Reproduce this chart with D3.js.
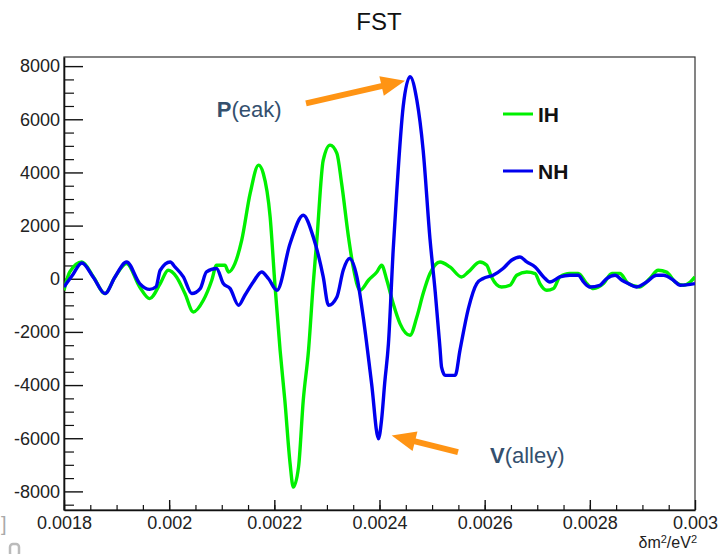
<!DOCTYPE html>
<html>
<head>
<meta charset="utf-8">
<script src="https://cdn.jsdelivr.net/npm/d3@7/dist/d3.min.js"></script>
<style>
  html, body { margin: 0; padding: 0; background: #fff; }
  svg { display: block; font-family: "Liberation Sans", Arial, Helvetica, sans-serif; }
</style>
</head>
<body>
<svg id="chart" width="722" height="554"></svg>
<script>
// δm² values (eV²) and FST amplitude for the inverted hierarchy (IH)
const ihX = [0.0018, 0.001811, 0.001834, 0.001856, 0.001878, 0.001897, 0.001919, 0.001944, 0.001963, 0.001983,
  0.001998, 0.002014, 0.00203, 0.002046, 0.002065, 0.002081, 0.00209, 0.002106, 0.002113, 0.002125,
  0.002138, 0.002154, 0.00217, 0.002179, 0.002192, 0.002201, 0.002211, 0.00222, 0.00223, 0.002236,
  0.002246, 0.002255, 0.002265, 0.002274, 0.002281, 0.002293, 0.002306, 0.002319, 0.002328, 0.002341,
  0.00235, 0.002363, 0.002379, 0.002395, 0.002404, 0.002414, 0.002426, 0.002439, 0.002458, 0.002471,
  0.002483, 0.002496, 0.002515, 0.002534, 0.002556, 0.002569, 0.002591, 0.002604, 0.002613, 0.002632,
  0.002648, 0.002661, 0.00268, 0.002696, 0.002705, 0.002718, 0.002731, 0.002743, 0.002762, 0.002778,
  0.002794, 0.002807, 0.002826, 0.002842, 0.002857, 0.002873, 0.002895, 0.002914, 0.00293, 0.002946,
  0.002962, 0.002978, 0.002991, 0.003];
const ihY = [-433, 256, 633, 68, -557, 68, 572, -309, -746, -181,
  320, 68, -557, -1250, -810, -56, 508, 508, 256, 572,
  1450, 3209, 4275, 3962, 2328, -181, -2693, -4576, -6960, -7841,
  -7088, -4576, -2693, -181, 1500, 4463, 5028, 4715, 3585, 1575,
  444, -433, -56, 256, 508, -56, -934, -1687, -2128, -1439,
  -557, 196, 633, 444, 68, 256, 633, 508, 68, -309,
  -245, 132, 256, 196, -181, -433, -370, 68, 196, 196,
  -181, -370, -181, 196, 196, -181, -309, 8, 320, 250,
  -120, -245, -120, 68];

// δm² values (eV²) and FST amplitude for the normal hierarchy (NH)
const nhX = [0.0018, 0.001815, 0.001834, 0.001856, 0.001878, 0.001897, 0.001919, 0.001944, 0.001963, 0.001975,
  0.001983, 0.002002, 0.002011, 0.002027, 0.002043, 0.002059, 0.002071, 0.00209, 0.002103, 0.002116,
  0.002132, 0.002144, 0.00216, 0.002176, 0.002189, 0.002205, 0.00223, 0.002255, 0.002274, 0.002293,
  0.002303, 0.002319, 0.002331, 0.002343, 0.002357, 0.002369, 0.002385, 0.002398, 0.002404, 0.00241,
  0.002417, 0.002426, 0.002433, 0.002445, 0.002458, 0.002471, 0.002483, 0.002496, 0.002506, 0.002515,
  0.002518, 0.002525, 0.002544, 0.002553, 0.002569, 0.002585, 0.002597, 0.002616, 0.002635, 0.002651,
  0.002667, 0.00268, 0.002696, 0.002712, 0.002724, 0.002743, 0.002762, 0.002778, 0.002788, 0.0028,
  0.002819, 0.002832, 0.002848, 0.002861, 0.002873, 0.002889, 0.002908, 0.002927, 0.00294, 0.002959,
  0.002972, 0.003];
const nhY = [-309, 100, 595, 50, -557, 68, 633, -181, -400, -300,
  320, 633, 444, 68, -557, -370, 256, 384, -181, -370,
  -998, -620, -120, 256, 0, -433, 1326, 2392, 1575, 68,
  -998, -685, 320, 761, 68, -1439, -3947, -6019, -5300, -3900,
  -2441, 1073, 3333, 6470, 7600, 6723, 4840, 1500, -500, -2600,
  -3322, -3635, -3635, -2693, -1122, -181, 8, 132, 384, 697,
  821, 633, 444, 68, -120, 68, 132, 132, -120, -309,
  -245, 8, 132, -56, -181, -309, -120, 132, 132, -56,
  -245, -181];

// axis ticks and labels
const xTicks = [0.0018, 0.002, 0.0022, 0.0024, 0.0026, 0.0028, 0.003];
const xTickLabels = ["0.0018", "0.002", "0.0022", "0.0024", "0.0026", "0.0028", "0.003"];
const yTicks = [-8000, -6000, -4000, -2000, 0, 2000, 4000, 6000, 8000];
const yTickLabels = ["-8000", "-6000", "-4000", "-2000", "0", "2000", "4000", "6000", "8000"];

const seriesNames = ["IH", "NH"];
const seriesColors = ["#00f000", "#0000ee"];

// annotation anchors in data space: [tail δm², tail FST, tip δm², tip FST]
const peakArrow = [0.0022602, 6600, 0.0024485, 7450];
const valleyArrow = [0.0025493, -6520, 0.0024232, -5895];
const peakLabel = [0.0020904, 6083];
const valleyLabel = [0.0026101, -6949];

const svg = d3.select("#chart");
const frame = { left: 64, right: 695, top: 57, bottom: 510 };

const x = d3.scaleLinear().domain([0.0018, 0.003]).range([frame.left, frame.right]);
const y = d3.scaleLinear().domain([-8700, 8343]).range([frame.bottom, frame.top]);

// plot frame
svg.append("rect")
  .attr("x", frame.left).attr("y", frame.top)
  .attr("width", frame.right - frame.left).attr("height", frame.bottom - frame.top)
  .attr("fill", "none").attr("stroke", "#333").attr("stroke-width", 1.2);

svg.append("defs").append("clipPath").attr("id", "plotClip")
  .append("rect")
  .attr("x", frame.left).attr("y", frame.top)
  .attr("width", frame.right - frame.left).attr("height", frame.bottom - frame.top);

// minor ticks
const xMinor = d3.range(0, 25).map(i => 0.0018 + i * 0.00005).filter(v => v < 0.003 - 1e-9);
const yMinor = d3.range(-8500, 8343, 500).filter(v => v % 2000 !== 0);

svg.append("g")
  .attr("transform", `translate(0,${frame.bottom})`)
  .call(d3.axisBottom(x).tickValues(xMinor).tickSize(-5).tickFormat(""))
  .call(g => g.select(".domain").remove())
  .call(g => g.selectAll("line").attr("stroke", "#111").attr("stroke-width", 1.2));

svg.append("g")
  .attr("transform", `translate(${frame.left},0)`)
  .call(d3.axisLeft(y).tickValues(yMinor).tickSize(-10).tickFormat(""))
  .call(g => g.select(".domain").remove())
  .call(g => g.selectAll("line").attr("stroke", "#111").attr("stroke-width", 1.2));

// major ticks with labels
svg.append("g")
  .attr("transform", `translate(0,${frame.bottom})`)
  .call(d3.axisBottom(x).tickValues(xTicks).tickSize(-10).tickSizeOuter(0).tickPadding(6)
    .tickFormat((d, i) => xTickLabels[i]))
  .call(g => g.select(".domain").attr("stroke", "#111").attr("stroke-width", 1.6))
  .call(g => g.selectAll("line").attr("stroke", "#111").attr("stroke-width", 1.4))
  .call(g => g.selectAll("text").attr("font-size", 18).attr("fill", "#222")
    .attr("font-family", "Liberation Sans, Arial, sans-serif"));

svg.append("g")
  .attr("transform", `translate(${frame.left},0)`)
  .call(d3.axisLeft(y).tickValues(yTicks).tickSize(-19).tickSizeOuter(0).tickPadding(4)
    .tickFormat((d, i) => yTickLabels[i]))
  .call(g => g.select(".domain").attr("stroke", "#111").attr("stroke-width", 1.6))
  .call(g => g.selectAll("line").attr("stroke", "#111").attr("stroke-width", 1.4))
  .call(g => g.selectAll("text").attr("font-size", 18).attr("fill", "#222")
    .attr("font-family", "Liberation Sans, Arial, sans-serif"));

// curves
const line = d3.line().x(d => x(d[0])).y(d => y(d[1])).curve(d3.curveMonotoneX);
const series = [
  d3.zip(ihX, ihY),
  d3.zip(nhX, nhY)
];
const plot = svg.append("g").attr("clip-path", "url(#plotClip)");
series.forEach((pts, i) => {
  plot.append("path")
    .datum(pts)
    .attr("d", line)
    .attr("fill", "none")
    .attr("stroke", seriesColors[i])
    .attr("stroke-width", 3.4)
    .attr("stroke-linejoin", "round");
});

// title
svg.append("text")
  .attr("x", 379).attr("y", 29.5)
  .attr("text-anchor", "middle")
  .attr("font-size", 24).attr("fill", "#111")
  .text("FST");

// x-axis title
const xt = svg.append("text")
  .attr("x", 697).attr("y", 548)
  .attr("text-anchor", "end")
  .attr("font-size", 16).attr("fill", "#222");
xt.append("tspan").text("δm");
xt.append("tspan").attr("font-size", 11).attr("dy", -5).text("2");
xt.append("tspan").attr("dy", 5).text("/eV");
xt.append("tspan").attr("font-size", 11).attr("dy", -5).text("2");

// legend
const legend = svg.append("g");
const legendRows = [114, 171];
seriesNames.forEach((name, i) => {
  legend.append("line")
    .attr("x1", 503).attr("x2", 533)
    .attr("y1", legendRows[i]).attr("y2", legendRows[i])
    .attr("stroke", seriesColors[i]).attr("stroke-width", 3);
  legend.append("text")
    .attr("x", 538).attr("y", legendRows[i] + 8)
    .attr("font-size", 21).attr("font-weight", "bold").attr("fill", "#111")
    .text(name);
});

// annotation arrows
function arrow(spec) {
  const x0 = x(spec[0]), y0 = y(spec[1]), x1 = x(spec[2]), y1 = y(spec[3]);
  const ang = Math.atan2(y1 - y0, x1 - x0);
  const headLen = 24, headHalf = 10;
  const bx = x1 - headLen * Math.cos(ang), by = y1 - headLen * Math.sin(ang);
  const nx = -Math.sin(ang), ny = Math.cos(ang);
  svg.append("line")
    .attr("x1", x0).attr("y1", y0)
    .attr("x2", bx + 2 * Math.cos(ang)).attr("y2", by + 2 * Math.sin(ang))
    .attr("stroke", "#ff9414").attr("stroke-width", 6);
  svg.append("polygon")
    .attr("points", [[x1, y1], [bx + nx * headHalf, by + ny * headHalf], [bx - nx * headHalf, by - ny * headHalf]]
      .map(p => p.join(",")).join(" "))
    .attr("fill", "#ff9414");
}
arrow(peakArrow);
arrow(valleyArrow);

function annotation(pos, head, rest) {
  const t = svg.append("text")
    .attr("x", x(pos[0])).attr("y", y(pos[1]))
    .attr("font-size", 22).attr("fill", "#34506e");
  t.append("tspan").attr("font-weight", "bold").text(head);
  t.append("tspan").text(rest);
}
annotation(peakLabel, "P", "(eak)");
annotation(valleyLabel, "V", "(alley)");

// edge remnants of the neighbouring panel
svg.append("text").attr("x", 1).attr("y", 531).attr("font-size", 20).attr("fill", "#aaa").text("]");
svg.append("rect").attr("x", 10).attr("y", 544).attr("width", 9).attr("height", 12).attr("rx", 3)
  .attr("fill", "none").attr("stroke", "#bbb").attr("stroke-width", 2.5);
</script>
</body>
</html>
